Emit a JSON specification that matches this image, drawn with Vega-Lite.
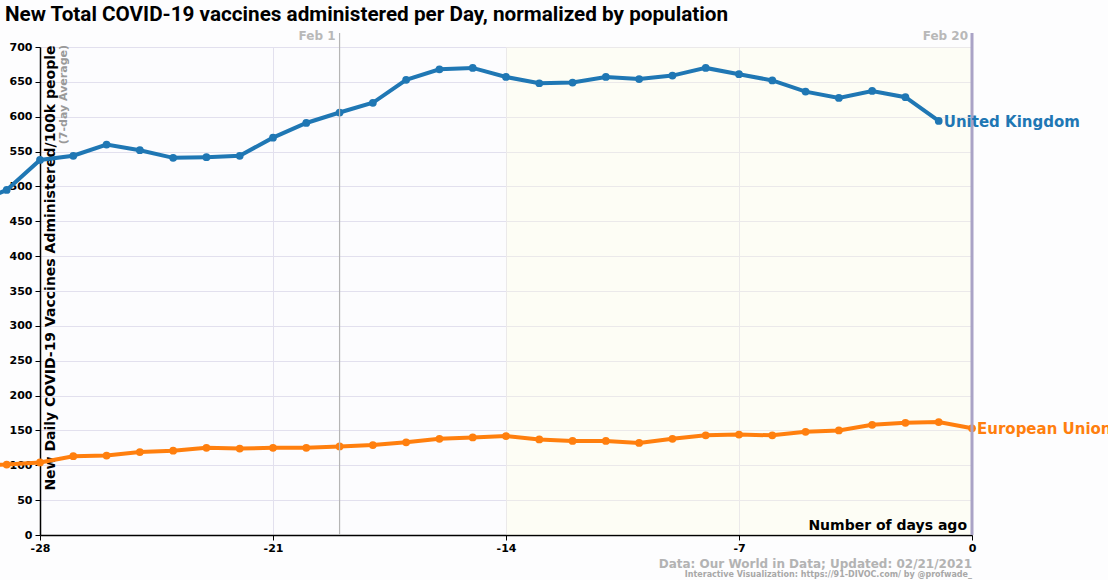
{
  "$schema": "https://vega.github.io/schema/vega-lite/v6.json",
  "width": 932,
  "height": 488,
  "autosize": {"type": "none"},
  "padding": {"left": 40, "top": 47, "right": 136, "bottom": 45},
  "background": "#fdfdfe",
  "title": {
    "text": "New Total COVID-19 vaccines administered per Day, normalized by population",
    "anchor": "start",
    "frame": "group",
    "dx": -35,
    "font": "Roboto",
    "fontSize": 20.7,
    "fontWeight": "bold",
    "color": "#000000",
    "offset": 4
  },
  "config": {
    "view": {"fill": "#fcfcfe", "stroke": null},
    "axis": {
      "labelFont": "DejaVu Sans",
      "labelFontSize": 11,
      "labelFontWeight": "bold",
      "labelColor": "#000000",
      "labelOverlap": false,
      "labelFlush": false,
      "domainColor": "#000000",
      "domainWidth": 1.5,
      "tickColor": "#000000",
      "tickSize": 5,
      "grid": true,
      "gridColor": "#e2e0ee",
      "gridWidth": 1,
      "titleFont": "DejaVu Sans",
      "titleFontSize": 14,
      "titleFontWeight": "bold",
      "titleColor": "#000000"
    }
  },
  "data": {
    "values": [
      {"country": "United Kingdom", "day": -30, "value": 475},
      {"country": "United Kingdom", "day": -29, "value": 495},
      {"country": "United Kingdom", "day": -28, "value": 538},
      {"country": "United Kingdom", "day": -27, "value": 544},
      {"country": "United Kingdom", "day": -26, "value": 560},
      {"country": "United Kingdom", "day": -25, "value": 552},
      {"country": "United Kingdom", "day": -24, "value": 541},
      {"country": "United Kingdom", "day": -23, "value": 542},
      {"country": "United Kingdom", "day": -22, "value": 544},
      {"country": "United Kingdom", "day": -21, "value": 570},
      {"country": "United Kingdom", "day": -20, "value": 591},
      {"country": "United Kingdom", "day": -19, "value": 606},
      {"country": "United Kingdom", "day": -18, "value": 620},
      {"country": "United Kingdom", "day": -17, "value": 653},
      {"country": "United Kingdom", "day": -16, "value": 668},
      {"country": "United Kingdom", "day": -15, "value": 670},
      {"country": "United Kingdom", "day": -14, "value": 657},
      {"country": "United Kingdom", "day": -13, "value": 648},
      {"country": "United Kingdom", "day": -12, "value": 649},
      {"country": "United Kingdom", "day": -11, "value": 657},
      {"country": "United Kingdom", "day": -10, "value": 654},
      {"country": "United Kingdom", "day": -9, "value": 659},
      {"country": "United Kingdom", "day": -8, "value": 670},
      {"country": "United Kingdom", "day": -7, "value": 661},
      {"country": "United Kingdom", "day": -6, "value": 652},
      {"country": "United Kingdom", "day": -5, "value": 636},
      {"country": "United Kingdom", "day": -4, "value": 627},
      {"country": "United Kingdom", "day": -3, "value": 637},
      {"country": "United Kingdom", "day": -2, "value": 628},
      {"country": "United Kingdom", "day": -1, "value": 594},
      {"country": "European Union", "day": -30, "value": 100},
      {"country": "European Union", "day": -29, "value": 101},
      {"country": "European Union", "day": -28, "value": 104},
      {"country": "European Union", "day": -27, "value": 113},
      {"country": "European Union", "day": -26, "value": 114},
      {"country": "European Union", "day": -25, "value": 119},
      {"country": "European Union", "day": -24, "value": 121},
      {"country": "European Union", "day": -23, "value": 125},
      {"country": "European Union", "day": -22, "value": 124},
      {"country": "European Union", "day": -21, "value": 125},
      {"country": "European Union", "day": -20, "value": 125},
      {"country": "European Union", "day": -19, "value": 127},
      {"country": "European Union", "day": -18, "value": 129},
      {"country": "European Union", "day": -17, "value": 133},
      {"country": "European Union", "day": -16, "value": 138},
      {"country": "European Union", "day": -15, "value": 140},
      {"country": "European Union", "day": -14, "value": 142},
      {"country": "European Union", "day": -13, "value": 137},
      {"country": "European Union", "day": -12, "value": 135},
      {"country": "European Union", "day": -11, "value": 135},
      {"country": "European Union", "day": -10, "value": 132},
      {"country": "European Union", "day": -9, "value": 138},
      {"country": "European Union", "day": -8, "value": 143},
      {"country": "European Union", "day": -7, "value": 144},
      {"country": "European Union", "day": -6, "value": 143},
      {"country": "European Union", "day": -5, "value": 148},
      {"country": "European Union", "day": -4, "value": 150},
      {"country": "European Union", "day": -3, "value": 158},
      {"country": "European Union", "day": -2, "value": 161},
      {"country": "European Union", "day": -1, "value": 162},
      {"country": "European Union", "day": 0, "value": 153}
    ]
  },
  "layer": [
    {
      "data": {"values": [{}]},
      "mark": {"type": "rect", "fill": "#ffffe0", "opacity": 0.3},
      "encoding": {
        "x": {
          "datum": -14,
          "type": "quantitative",
          "scale": {"domain": [-28, 0], "nice": false, "zero": false},
          "axis": {
            "title": null,
            "grid": true,
            "tickCount": 10,
            "values": [-28, -21, -14, -7, 0],
            "labelExpr": "datum.value + ''",
            "labelFlush": false,
            "labelPadding": 2
          }
        },
        "x2": {"datum": 0},
        "y": {
          "datum": 0,
          "type": "quantitative",
          "scale": {"domain": [0, 700], "nice": false},
          "axis": {
            "title": "New Daily COVID-19 Vaccines Administered/100k people",
            "grid": true,
            "tickCount": 30,
            "values": [0, 50, 100, 150, 200, 250, 300, 350, 400, 450, 500, 550, 600, 650, 700],
            "labelOverlap": false,
            "labelFlush": false,
            "titleX": 10,
            "titleY": -2,
            "titleAngle": 270,
            "titleAlign": "right",
            "titleBaseline": "middle",
            "labelPadding": 3
          }
        },
        "y2": {"datum": 700}
      }
    },
    {
      "mark": {"type": "line", "strokeWidth": 4},
      "encoding": {
        "x": {"field": "day", "type": "quantitative"},
        "y": {"field": "value", "type": "quantitative"},
        "color": {
          "field": "country",
          "type": "nominal",
          "scale": {"domain": ["United Kingdom", "European Union"], "range": ["#1f77b4", "#ff7f0e"]},
          "legend": null
        }
      }
    },
    {
      "mark": {"type": "point", "filled": true, "size": 60, "opacity": 1},
      "encoding": {
        "x": {"field": "day", "type": "quantitative"},
        "y": {"field": "value", "type": "quantitative"},
        "color": {"field": "country", "type": "nominal", "legend": null}
      }
    },
    {
      "data": {"values": [{"day": -19, "label": "Feb 1"}]},
      "mark": {"type": "rule", "color": "#b5b5b5", "strokeWidth": 1.2},
      "encoding": {
        "x": {"field": "day", "type": "quantitative"},
        "y": {"datum": 0, "type": "quantitative"},
        "y2": {"datum": 720}
      }
    },
    {
      "data": {"values": [{"day": 0, "label": "Feb 20"}]},
      "mark": {"type": "rule", "color": "#aaa3c6", "strokeWidth": 3},
      "encoding": {
        "x": {"field": "day", "type": "quantitative"},
        "y": {"datum": 0, "type": "quantitative"},
        "y2": {"datum": 720}
      }
    },
    {
      "data": {"values": [{"day": -19, "label": "Feb 1"}, {"day": 0, "label": "Feb 20"}]},
      "mark": {"type": "text", "align": "right", "baseline": "top", "dx": -4, "font": "DejaVu Sans", "fontSize": 12, "fontWeight": "bold", "color": "#b8b8b8"},
      "encoding": {
        "x": {"field": "day", "type": "quantitative"},
        "y": {"datum": 723, "type": "quantitative"},
        "text": {"field": "label"}
      }
    },
    {
      "transform": [
        {"joinaggregate": [{"op": "max", "field": "day", "as": "maxday"}], "groupby": ["country"]},
        {"filter": "datum.day == datum.maxday"}
      ],
      "mark": {"type": "text", "align": "left", "baseline": "middle", "dx": 5, "dy": 1, "font": "DejaVu Sans", "fontSize": 15, "fontWeight": "bold"},
      "encoding": {
        "x": {"field": "day", "type": "quantitative"},
        "y": {"field": "value", "type": "quantitative"},
        "text": {"field": "country"},
        "color": {"field": "country", "type": "nominal", "legend": null}
      }
    },
    {
      "data": {"values": [{"label": "(7-day Average)"}]},
      "mark": {"type": "text", "angle": 270, "align": "right", "baseline": "middle", "dx": 2, "dy": 24, "font": "DejaVu Sans", "fontSize": 11, "fontWeight": "bold", "color": "#999999"},
      "encoding": {
        "x": {"datum": -28, "type": "quantitative"},
        "y": {"datum": 700, "type": "quantitative"},
        "text": {"field": "label"}
      }
    },
    {
      "data": {"values": [{"label": "Number of days ago"}]},
      "mark": {"type": "text", "align": "right", "baseline": "alphabetic", "dx": -5, "dy": -5, "font": "DejaVu Sans", "fontSize": 14, "fontWeight": "bold", "color": "#000000"},
      "encoding": {
        "x": {"datum": 0, "type": "quantitative"},
        "y": {"datum": 0, "type": "quantitative"},
        "text": {"field": "label"}
      }
    },
    {
      "data": {"values": [{"label": "Data: Our World in Data; Updated: 02/21/2021"}]},
      "mark": {"type": "text", "align": "right", "baseline": "alphabetic", "dy": 33, "font": "DejaVu Sans", "fontSize": 12, "fontWeight": "bold", "color": "#b3b3b3"},
      "encoding": {
        "x": {"datum": 0, "type": "quantitative"},
        "y": {"datum": 0, "type": "quantitative"},
        "text": {"field": "label"}
      }
    },
    {
      "data": {"values": [{"label": "Interactive Visualization: https://91-DIVOC.com/ by @profwade_"}]},
      "mark": {"type": "text", "align": "right", "baseline": "alphabetic", "dy": 42, "font": "DejaVu Sans", "fontSize": 8, "fontWeight": "bold", "color": "#a8a8a8"},
      "encoding": {
        "x": {"datum": 0, "type": "quantitative"},
        "y": {"datum": 0, "type": "quantitative"},
        "text": {"field": "label"}
      }
    }
  ]
}
